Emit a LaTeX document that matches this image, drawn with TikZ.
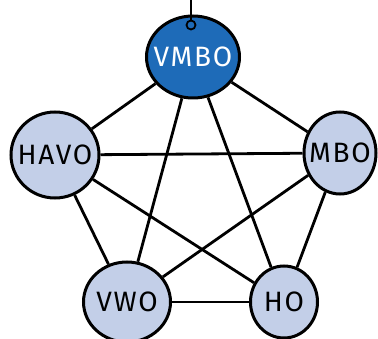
\documentclass[tikz,border=0pt]{standalone}
\usepackage{fontspec}
\setmainfont{Fira Sans}[LetterSpace=6]
\usetikzlibrary{shapes.geometric}
\definecolor{darkblue}{HTML}{1E6BB8}
\definecolor{lightblue}{HTML}{C3CFE8}
\newcommand{\lbl}[1]{\makebox[0pt]{#1}}
\tikzset{
  school/.style={ellipse, draw=black, line width=3pt, fill=lightblue, inner sep=0pt, font=\fontsize{28}{28}\selectfont, text=black},
  hub/.style={school, fill=darkblue, text=white},
  link/.style={draw=black, line width=2.8pt}
}
\begin{document}
\begin{tikzpicture}[x=1pt,y=1pt]
\useasboundingbox (0,0) rectangle (378,-339);
\node[hub, minimum width=93pt, minimum height=82pt] (vmbo) at (193,-57) {\lbl{VMBO}};
\node[school, minimum width=88pt, minimum height=86pt] (havo) at (55,-155) {\lbl{HAVO}};
\node[school, minimum width=72pt, minimum height=82pt] (mbo) at (340,-153) {\lbl{MBO}};
\node[school, minimum width=87pt, minimum height=80pt] (vwo) at (127,-302) {\lbl{VWO}};
\node[school, minimum width=67pt, minimum height=72pt] (ho) at (284,-302) {\lbl{HO}};
\path[link] (vmbo) -- (havo);
\path[link] (vmbo) -- (mbo);
\path[link] (vmbo) -- (vwo);
\path[link] (vmbo) -- (ho);
\path[link] (havo) -- (mbo);
\path[link] (havo) -- (vwo);
\path[link] (havo) -- (ho);
\path[link] (mbo) -- (vwo);
\path[link] (mbo) -- (ho);
\path[link] (vwo) -- (ho);
\coordinate (top) at (191,0);
\node[circle, draw=black, line width=1.8pt, minimum size=9pt, inner sep=0pt] (knob) at (191,-25) {};
\draw[black, line width=1.6pt] (top) -- (knob.north);
\end{tikzpicture}
\end{document}
